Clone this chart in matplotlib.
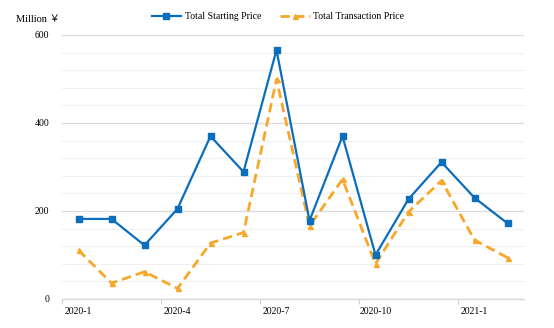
import matplotlib
matplotlib.use("Agg")
import matplotlib.pyplot as plt
import numpy as np

months = ["2020-1", "2020-2", "2020-3", "2020-4", "2020-5", "2020-6", "2020-7",
          "2020-8", "2020-9", "2020-10", "2020-11", "2020-12", "2021-1", "2021-2"]
starting_price = [182, 182, 122, 205, 370, 289, 566, 178, 370, 100, 227, 311, 230, 172]
transaction_price = [111, 36, 62, 24, 127, 151, 499, 166, 272, 80, 198, 269, 134, 94]
label_every = 3

plt.rcParams['font.family'] = ['Liberation Serif', 'DejaVu Serif']
plt.rcParams['font.size'] = 7

fig = plt.figure(figsize=(5.54, 3.28), dpi=100)
ax = fig.add_axes([62 / 554, 29 / 328, 462 / 554, 264 / 328])

x = np.arange(len(months)) + 0.5
ax.plot(x, starting_price, color="#0a6ebd", lw=1.6, marker="s", ms=3.8,
        label="Total Starting Price", zorder=3)
ax.plot(x, transaction_price, color="#f7a82c", lw=2.0, ls=(0, (3.4, 1.8)),
        marker="^", ms=3.6, label="Total Transaction Price", zorder=2)

ax.set_xlim(0, len(months))
ax.set_ylim(0, 600)
ax.set_yticks([0, 200, 400, 600])
ax.set_yticks(np.arange(0, 601, 40), minor=True)
ax.grid(axis="y", which="major", color="#dcdcdc", lw=1.0)
ax.grid(axis="y", which="minor", color="#f0f0f0", lw=0.8)
ax.set_axisbelow(True)

ax.set_xticks(np.arange(0, len(months), label_every))
ax.set_xticklabels([])
ax.set_xticks(np.arange(0, len(months), label_every) + 0.5, minor=True)
ax.set_xticklabels(months[::label_every], minor=True)
ax.tick_params(axis="x", which="major", length=3.5, color="#d0d0d0", width=0.8)
ax.tick_params(axis="x", which="minor", length=0, pad=6)
ax.tick_params(axis="y", which="both", length=0, pad=9)

for s in ["top", "right", "left"]:
    ax.spines[s].set_visible(False)
ax.spines["bottom"].set_color("#d9d9d9")
ax.spines["bottom"].set_linewidth(1.0)

fig.text(16 / 554, 1 - 20 / 328, "Million ￥", fontsize=7.5, va="center",
         family=['Liberation Serif', 'Noto Sans CJK SC'])
fig.legend(loc="center", bbox_to_anchor=(278 / 554, 1 - 16.5 / 328), ncol=2,
           frameon=False, handlelength=3.0, columnspacing=2.0, handletextpad=0.4)

fig.savefig("out.png", dpi=100)
